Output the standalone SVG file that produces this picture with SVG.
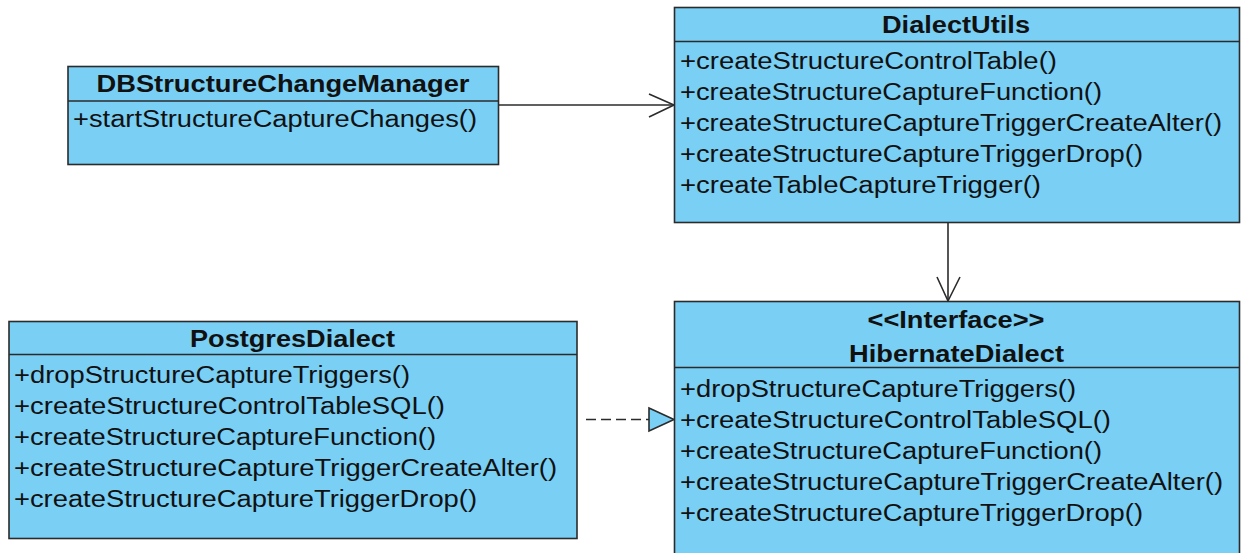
<svg xmlns="http://www.w3.org/2000/svg" width="1241" height="553" viewBox="0 0 1241 553">
  <style>
    .box { fill: #7acff5; stroke: #2b2b2b; stroke-width: 1.6; }
    .div { stroke: #2b2b2b; stroke-width: 1.6; fill: none; }
    .title { font-family: "Liberation Sans", Arial, sans-serif; font-size: 23px; font-weight: bold; fill: #111; text-anchor: middle; }
    .op { font-family: "Liberation Sans", Arial, sans-serif; font-size: 23px; fill: #111; }
    .edge { stroke: #2b2b2b; stroke-width: 1.6; fill: none; }
    .dash { stroke-dasharray: 10 5; }
    .head { stroke: #2b2b2b; stroke-width: 1.6; fill: none; stroke-linejoin: miter; }
    .tri { stroke: #2b2b2b; stroke-width: 1.6; fill: #7acff5; }
  </style>

  <rect width="1241" height="553" fill="#ffffff"/>

  <!-- connectors -->
  <g id="connectors">
    <!-- association: manager uses DialectUtils -->
    <line class="edge" x1="499" y1="105" x2="674" y2="105"/>
    <polyline class="head" points="649,94 674,105 649,117"/>
    <!-- association: DialectUtils uses HibernateDialect -->
    <line class="edge" x1="948" y1="223" x2="948" y2="301"/>
    <polyline class="head" points="937,277 948,301 960,277"/>
    <!-- realization: PostgresDialect implements HibernateDialect -->
    <line class="edge dash" x1="586" y1="419.5" x2="649" y2="419.5"/>
    <polygon class="tri" points="649,408 674,419.5 649,431"/>
  </g>

  <g id="DBStructureChangeManager">
    <rect class="box" x="68" y="66.5" width="430.5" height="98"/>
    <line class="div" x1="68" y1="101" x2="498.5" y2="101"/>
    <text class="title" x="283" y="92" textLength="373" lengthAdjust="spacingAndGlyphs">DBStructureChangeManager</text>
    <text class="op" x="73" y="127" textLength="404" lengthAdjust="spacingAndGlyphs">+startStructureCaptureChanges()</text>
  </g>

  <g id="DialectUtils">
    <rect class="box" x="674.5" y="7.5" width="565" height="215"/>
    <line class="div" x1="674.5" y1="41.5" x2="1239.5" y2="41.5"/>
    <text class="title" x="956" y="33" textLength="148" lengthAdjust="spacingAndGlyphs">DialectUtils</text>
    <text class="op" x="680" y="69" textLength="377" lengthAdjust="spacingAndGlyphs">+createStructureControlTable()</text>
    <text class="op" x="680" y="100" textLength="422" lengthAdjust="spacingAndGlyphs">+createStructureCaptureFunction()</text>
    <text class="op" x="680" y="131" textLength="542" lengthAdjust="spacingAndGlyphs">+createStructureCaptureTriggerCreateAlter()</text>
    <text class="op" x="680" y="162" textLength="463" lengthAdjust="spacingAndGlyphs">+createStructureCaptureTriggerDrop()</text>
    <text class="op" x="680" y="193" textLength="361" lengthAdjust="spacingAndGlyphs">+createTableCaptureTrigger()</text>
  </g>

  <g id="PostgresDialect">
    <rect class="box" x="9" y="321.5" width="568" height="217"/>
    <line class="div" x1="9" y1="354.5" x2="577" y2="354.5"/>
    <text class="title" x="292.5" y="347" textLength="205" lengthAdjust="spacingAndGlyphs">PostgresDialect</text>
    <text class="op" x="14" y="382.5" textLength="396" lengthAdjust="spacingAndGlyphs">+dropStructureCaptureTriggers()</text>
    <text class="op" x="14" y="413.5" textLength="431" lengthAdjust="spacingAndGlyphs">+createStructureControlTableSQL()</text>
    <text class="op" x="14" y="444.5" textLength="422" lengthAdjust="spacingAndGlyphs">+createStructureCaptureFunction()</text>
    <text class="op" x="14" y="475.5" textLength="543" lengthAdjust="spacingAndGlyphs">+createStructureCaptureTriggerCreateAlter()</text>
    <text class="op" x="14" y="506.5" textLength="463" lengthAdjust="spacingAndGlyphs">+createStructureCaptureTriggerDrop()</text>
  </g>

  <g id="HibernateDialect">
    <rect class="box" x="674.5" y="301.5" width="565" height="262"/>
    <line class="div" x1="674.5" y1="367.5" x2="1239.5" y2="367.5"/>
    <text class="title" x="956" y="327.5" textLength="177" lengthAdjust="spacingAndGlyphs">&lt;&lt;Interface&gt;&gt;</text>
    <text class="title" x="956.5" y="361.5" textLength="215" lengthAdjust="spacingAndGlyphs">HibernateDialect</text>
    <text class="op" x="680" y="396.5" textLength="396" lengthAdjust="spacingAndGlyphs">+dropStructureCaptureTriggers()</text>
    <text class="op" x="680" y="427.5" textLength="431" lengthAdjust="spacingAndGlyphs">+createStructureControlTableSQL()</text>
    <text class="op" x="680" y="458.5" textLength="422" lengthAdjust="spacingAndGlyphs">+createStructureCaptureFunction()</text>
    <text class="op" x="680" y="489.5" textLength="543" lengthAdjust="spacingAndGlyphs">+createStructureCaptureTriggerCreateAlter()</text>
    <text class="op" x="680" y="520.5" textLength="463" lengthAdjust="spacingAndGlyphs">+createStructureCaptureTriggerDrop()</text>
  </g>
</svg>
